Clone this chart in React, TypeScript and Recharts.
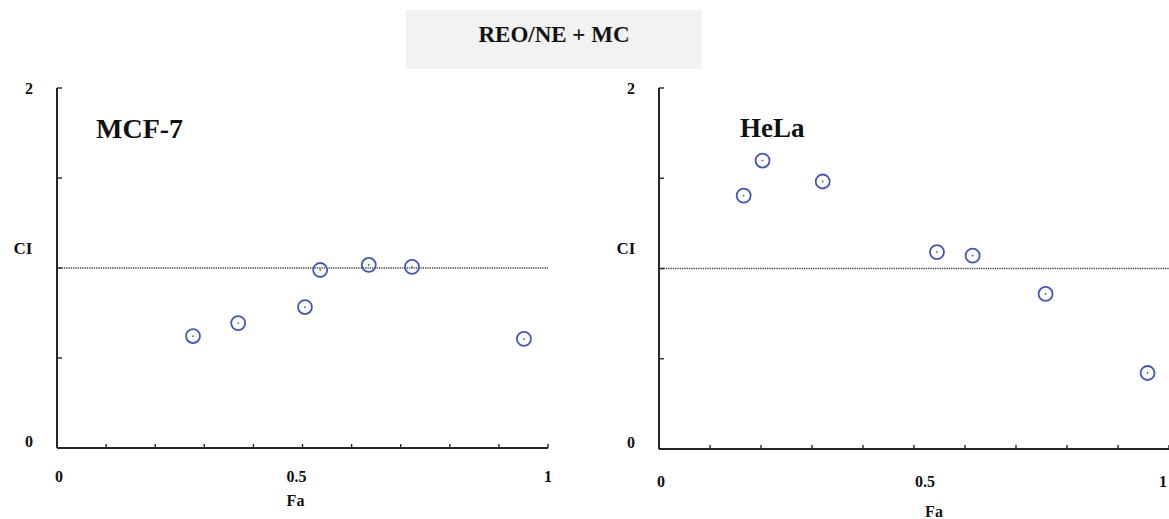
import React from 'react';
import { ScatterChart, Scatter, XAxis, YAxis, ReferenceLine } from 'recharts';

// ---- data ----
const xTicks = [0, 0.1, 0.2, 0.3, 0.4, 0.5, 0.6, 0.7, 0.8, 0.9, 1];
const xTickLabelValues = [0, 0.5, 1];
const xTickLabelTexts = ['0', '0.5', '1'];
const yTicks = [0, 0.5, 1, 1.5, 2];
const yTickLabelValues = [0, 2];
const yTickLabelTexts = ['0', '2'];

const mcfFa = [0.277, 0.369, 0.505, 0.536, 0.635, 0.723, 0.951];
const mcfCI = [0.622, 0.694, 0.783, 0.989, 1.017, 1.006, 0.606];
const helaFa = [0.166, 0.203, 0.321, 0.545, 0.615, 0.758, 0.958];
const helaCI = [1.404, 1.598, 1.482, 1.091, 1.071, 0.859, 0.421];

const titleText = 'REO/NE + MC';
const panelNames = ['MCF-7', 'HeLa'];
const xAxisTitle = 'Fa';
const yAxisTitle = 'CI';

const FONT = '"Liberation Serif", "Times New Roman", Times, serif';
const AXIS = '#262626';
const MARK = '#4657b3';

const Marker = (p: any) => {
  const { cx, cy } = p;
  if (cx == null || cy == null) return <g />;
  return (
    <g>
      <circle cx={cx} cy={cy} r={7} fill="none" stroke={MARK} strokeWidth={1.8} />
      <circle cx={cx} cy={cy} r={0.9} fill={MARK} />
    </g>
  );
};

type PanelProps = {
  fa: number[];
  ci: number[];
  width: number;
  yAxisWidth: number;
  xAxisHeight: number;
  marginRight: number;
  xLabelGap: number;
  halfDx: number;
  oneDx: number;
  faDx: number;
  faY: number;
  ciDx: number;
};

function Panel(props: PanelProps) {
  const { fa, ci, width, yAxisWidth, xAxisHeight, marginRight, xLabelGap, halfDx, oneDx, faDx, faY, ciDx } = props;
  const data = fa.map((f, i) => ({ fa: f, ci: ci[i] }));

  const xTick = (p: any) => {
    const v = p.payload?.value;
    const idx = xTickLabelValues.findIndex((t) => Math.abs(t - v) < 1e-9);
    if (idx < 0) return <g />;
    const dx = v === 0.5 ? halfDx : v === 0 ? 2 : oneDx;
    return (
      <text
        x={p.x + dx}
        y={p.y + 4 + xLabelGap}
        textAnchor="middle"
        dy="0.35em"
        fontFamily={FONT}
        fontWeight="bold"
        fontSize={16}
        fill="#111"
      >
        {xTickLabelTexts[idx]}
      </text>
    );
  };

  const yTick = (p: any) => {
    const v = p.payload?.value;
    const idx = yTickLabelValues.findIndex((t) => Math.abs(t - v) < 1e-9);
    if (idx < 0) return <g />;
    const dy = v === 0 ? -7 : 0;
    return (
      <text
        x={p.x - 5 - 28}
        y={p.y + dy}
        textAnchor="middle"
        dy="0.35em"
        fontFamily={FONT}
        fontWeight="bold"
        fontSize={16}
        fill="#111"
      >
        {yTickLabelTexts[idx]}
      </text>
    );
  };

  return (
    <ScatterChart
      width={width}
      height={519}
      margin={{ top: 88, right: marginRight, bottom: 0, left: 0 }}
    >
      <XAxis
        type="number"
        dataKey="fa"
        domain={[0, 1]}
        ticks={xTicks}
        interval={0}
        height={xAxisHeight}
        tickSize={-4}
        tickMargin={0}
        axisLine={{ stroke: AXIS, strokeWidth: 2 }}
        tickLine={{ stroke: AXIS, strokeWidth: 1.4 }}
        tick={xTick}
        allowDataOverflow
        label={{
          content: (lp: any) => {
            const vb = lp.viewBox || {};
            return (
              <text
                x={vb.x + vb.width / 2 + faDx}
                y={faY}
                textAnchor="middle"
                dy="0.35em"
                fontFamily={FONT}
                fontWeight="bold"
                fontSize={16}
                fill="#111"
              >
                {xAxisTitle}
              </text>
            );
          },
        }}
      />
      <YAxis
        type="number"
        dataKey="ci"
        domain={[0, 2]}
        ticks={yTicks}
        interval={0}
        width={yAxisWidth}
        tickSize={-5}
        tickMargin={0}
        axisLine={{ stroke: AXIS, strokeWidth: 2 }}
        tickLine={{ stroke: AXIS, strokeWidth: 1.4 }}
        tick={yTick}
        allowDataOverflow
        label={{
          content: (lp: any) => {
            const vb = lp.viewBox || {};
            return (
              <text
                x={vb.x + vb.width - ciDx}
                y={vb.y + vb.height / 2 - 20}
                textAnchor="middle"
                dy="0.35em"
                fontFamily={FONT}
                fontWeight="bold"
                fontSize={17}
                fill="#111"
              >
                {yAxisTitle}
              </text>
            );
          },
        }}
      />
      <ReferenceLine y={1} stroke="#444" strokeWidth={1.5} strokeDasharray="1.3 1" ifOverflow="extendDomain" />
      <Scatter data={data} shape={Marker} isAnimationActive={false} />
    </ScatterChart>
  );
}

export default function App() {
  return (
    <div
      style={{
        position: 'absolute',
        left: 0,
        top: 0,
        width: 1169,
        height: 519,
        background: '#fff',
        overflow: 'hidden',
      }}
    >
      <div style={{ position: 'absolute', left: 0, top: 0 }}>
        <Panel
          fa={mcfFa}
          ci={mcfCI}
          width={580}
          yAxisWidth={57}
          xAxisHeight={71}
          marginRight={32}
          xLabelGap={28}
          halfDx={-6}
          oneDx={0}
          faDx={-7}
          faY={500}
          ciDx={34}
        />
      </div>
      <div style={{ position: 'absolute', left: 580, top: 0 }}>
        <Panel
          fa={helaFa}
          ci={helaCI}
          width={589}
          yAxisWidth={79}
          xAxisHeight={70}
          marginRight={0}
          xLabelGap={32}
          halfDx={11}
          oneDx={-6}
          faDx={20}
          faY={511}
          ciDx={33}
        />
      </div>
      <svg
        width={1169}
        height={519}
        style={{ position: 'absolute', left: 0, top: 0, pointerEvents: 'none' }}
      >
        <rect x={406} y={10} width={296} height={59} fill="#f2f2f2" />
        <text
          x={554}
          y={34}
          textAnchor="middle"
          dy="0.35em"
          fontFamily={FONT}
          fontWeight="bold"
          fontSize={23}
          fill="#111"
        >
          {titleText}
        </text>
        <text x={96} y={138} fontFamily={FONT} fontWeight="bold" fontSize={28} fill="#111">
          {panelNames[0]}
        </text>
        <text x={740} y={137} fontFamily={FONT} fontWeight="bold" fontSize={27} fill="#111">
          {panelNames[1]}
        </text>
      </svg>
    </div>
  );
}
